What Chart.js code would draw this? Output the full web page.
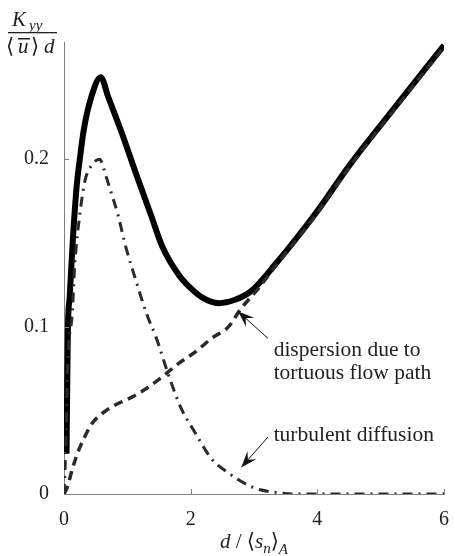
<!DOCTYPE html>
<html>
<head>
<meta charset="utf-8">
<script src="https://cdn.jsdelivr.net/npm/chart.js@4.4.0/dist/chart.umd.min.js"></script>
<style>
  html, body { margin: 0; padding: 0; background: #fff; }
  #wrap { width: 455px; height: 556px; }
</style>
</head>
<body>
<div id="wrap"><canvas id="myChart"></canvas></div>
<script>
const ctx = document.getElementById('myChart');

// total K_yy / (<u> d)
const solidX = [0.04, 0.06, 0.09, 0.14, 0.2, 0.25, 0.31, 0.43, 0.58, 0.7, 0.9, 1.15, 1.37, 1.55, 1.81, 2.0, 2.2, 2.44, 2.7, 2.95, 3.375, 3.84, 4.0, 4.52, 5.14, 6.0];
const solidY = [0.024, 0.096, 0.118, 0.152, 0.184, 0.2, 0.217, 0.237, 0.249, 0.237, 0.217, 0.19, 0.167, 0.148, 0.131, 0.123, 0.117, 0.114, 0.116, 0.121, 0.139, 0.161, 0.169, 0.197, 0.227, 0.268];

// dispersion due to tortuous flow path
const dashX = [0, 0.05, 0.14, 0.22, 0.3, 0.44, 0.6, 0.8, 1.08, 1.3, 1.55, 1.81, 2.08, 2.33, 2.6, 2.8, 3.03, 3.375, 3.84, 4.0, 4.52, 5.14, 6.0];
const dashY = [0, 0.004, 0.016, 0.025, 0.032, 0.042, 0.048, 0.053, 0.058, 0.063, 0.07, 0.078, 0.085, 0.093, 0.1, 0.111, 0.121, 0.138, 0.16, 0.168, 0.196, 0.226, 0.267];

// turbulent diffusion
const dotX = [0, 0.03, 0.06, 0.13, 0.17, 0.25, 0.33, 0.45, 0.56, 0.67, 0.72, 0.85, 0.98, 1.14, 1.3, 1.45, 1.66, 1.84, 2.08, 2.33, 2.6, 2.9, 3.1, 3.33, 3.6, 6.0];
const dotY = [0, 0.03, 0.078, 0.108, 0.137, 0.167, 0.187, 0.197, 0.2, 0.189, 0.183, 0.167, 0.147, 0.127, 0.108, 0.094, 0.07, 0.052, 0.036, 0.021, 0.0125, 0.0054, 0.0025, 0.001, 0, 0];

const xTicks = [0, 2, 4, 6];
const yTicks = [0, 0.1, 0.2];
const yTickLabels = ['0', '0.1', '0.2'];

const serif = '"Liberation Serif", "DejaVu Serif", serif';

function toPoints(xs, ys) {
  return xs.map((x, i) => ({ x: x, y: ys[i] }));
}

function arrow(c, x0, y0, x1, y1) {
  c.beginPath();
  c.moveTo(x0, y0);
  c.lineTo(x1, y1);
  c.stroke();
  const ang = Math.atan2(y1 - y0, x1 - x0);
  c.save();
  c.translate(x1, y1);
  c.rotate(ang);
  c.beginPath();
  c.moveTo(0, 0);
  c.lineTo(-16, -6);
  c.lineTo(-10, 0);
  c.lineTo(-16, 6);
  c.closePath();
  c.fill();
  c.restore();
}

const extras = {
  id: 'extras',
  afterDraw(chart) {
    const c = chart.ctx;
    const xs = chart.scales.x;
    const ys = chart.scales.y;
    const a = chart.chartArea;
    c.save();

    // inward ticks
    c.strokeStyle = '#808080';
    c.lineWidth = 1;
    yTicks.forEach(v => {
      if (v === 0) return;
      const py = Math.round(ys.getPixelForValue(v)) + 0.5;
      c.beginPath(); c.moveTo(a.left, py); c.lineTo(a.left + 5, py); c.stroke();
    });
    xTicks.forEach(v => {
      if (v === 0) return;
      const px = Math.round(xs.getPixelForValue(v)) + 0.5;
      c.beginPath(); c.moveTo(px, a.bottom); c.lineTo(px, a.bottom - 5); c.stroke();
    });

    // annotations
    c.fillStyle = '#111';
    c.strokeStyle = '#111';
    c.lineWidth = 1;
    arrow(c, xs.getPixelForValue(3.22), ys.getPixelForValue(0.093), xs.getPixelForValue(2.75), ys.getPixelForValue(0.109));
    arrow(c, xs.getPixelForValue(3.22), ys.getPixelForValue(0.034), xs.getPixelForValue(2.8), ys.getPixelForValue(0.016));

    c.font = '21.5px ' + serif;
    c.textAlign = 'left';
    c.textBaseline = 'middle';
    c.fillStyle = '#222';
    const tx = xs.getPixelForValue(3.31);
    c.fillText('dispersion due to', tx, ys.getPixelForValue(0.086));
    c.fillText('tortuous flow path', tx, ys.getPixelForValue(0.072));
    c.fillText('turbulent diffusion', tx, ys.getPixelForValue(0.035));

    // y title: K_yy / (<u> d)
    c.textBaseline = 'alphabetic';
    c.font = 'italic 21px ' + serif;
    c.fillText('K', 12, 26);
    c.font = 'italic 15px ' + serif;
    c.fillText('yy', 29, 30);
    c.fillRect(8, 32, 49, 1.3);
    c.font = '21px ' + serif;
    c.fillText('\u27E8', 6, 53);
    c.font = 'italic 21px ' + serif;
    c.fillText('u', 18, 53);
    c.fillRect(18, 38, 12, 1.5);
    c.font = '21px ' + serif;
    c.fillText('\u27E9', 31, 53);
    c.font = 'italic 21px ' + serif;
    c.fillText('d', 44, 53);

    // x title: d / <s_n>_A
    const parts = [
      ['italic 21px ', 'd', 0],
      ['21px ', ' / ', 0],
      ['21px ', '\u27E8', 0],
      ['italic 21px ', 's', 0],
      ['italic 15px ', 'n', 5],
      ['21px ', '\u27E9', 0],
      ['italic 15px ', 'A', 6]
    ];
    let total = 0;
    parts.forEach(p => { c.font = p[0] + serif; total += c.measureText(p[1]).width; });
    let x = (a.left + a.right) / 2 - total / 2;
    const base = 548;
    parts.forEach(p => {
      c.font = p[0] + serif;
      c.fillText(p[1], x, base + p[2]);
      x += c.measureText(p[1]).width;
    });

    c.restore();
  }
};

new Chart(ctx, {
  type: 'line',
  data: {
    datasets: [
      {
        label: 'dispersion',
        data: toPoints(dashX, dashY),
        borderColor: '#2a2a2a',
        borderWidth: 3.5,
        borderDash: [9, 6],
        pointRadius: 0,
        cubicInterpolationMode: 'monotone',
        order: 1
      },
      {
        label: 'turbulent',
        data: toPoints(dotX, dotY),
        borderColor: '#2a2a2a',
        borderWidth: 3,
        borderDash: [10, 6, 2, 6],
        pointRadius: 0,
        cubicInterpolationMode: 'monotone',
        order: 2
      },
      {
        label: 'total',
        data: toPoints(solidX, solidY),
        borderColor: '#000',
        borderWidth: 6,
        pointRadius: 0,
        cubicInterpolationMode: 'monotone',
        order: 3
      }
    ]
  },
  options: {
    responsive: true,
    maintainAspectRatio: false,
    animation: false,
    layout: { padding: { left: 0, top: 42, right: 6, bottom: 0 } },
    plugins: { legend: { display: false }, tooltip: { enabled: false } },
    scales: {
      x: {
        type: 'linear',
        min: 0,
        max: 6,
        grid: { display: false },
        border: { display: true, color: '#808080', width: 1 },
        afterBuildTicks: s => { s.ticks = xTicks.map(v => ({ value: v })); },
        afterFit: s => { s.height = 62; },
        ticks: { color: '#222', padding: 6, maxRotation: 0, font: { family: serif, size: 20 } }
      },
      y: {
        type: 'linear',
        min: 0,
        max: 0.27,
        grid: { display: false },
        border: { display: true, color: '#808080', width: 1 },
        afterBuildTicks: s => { s.ticks = yTicks.map(v => ({ value: v })); },
        afterFit: s => { s.width = 64; },
        ticks: {
          color: '#222',
          padding: 7,
          font: { family: serif, size: 20 },
          callback: (v) => yTickLabels[yTicks.indexOf(v)]
        }
      }
    }
  },
  plugins: [extras]
});
</script>
</body>
</html>
